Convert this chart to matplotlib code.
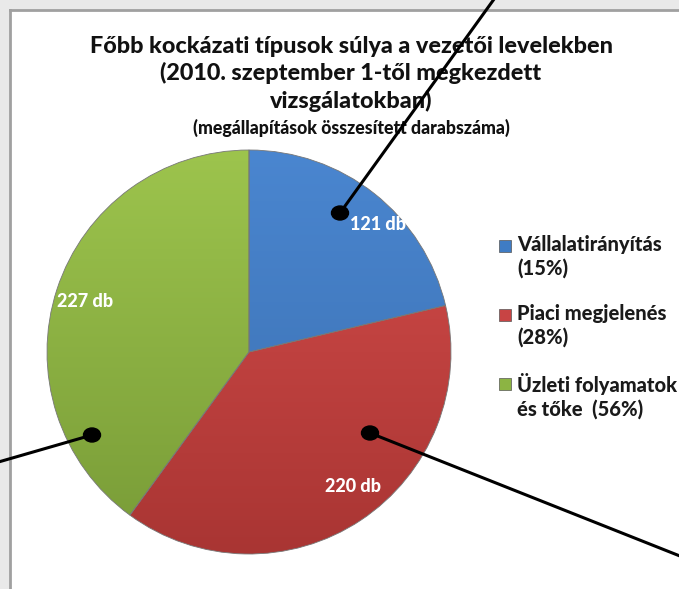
import numpy as np
import matplotlib
matplotlib.use('Agg')
import matplotlib.pyplot as plt
from matplotlib.colors import LinearSegmentedColormap
from matplotlib.patches import Rectangle, Ellipse

# Adatok
categories = ['Vállalatirányítás\n(15%)', 'Piaci megjelenés\n(28%)', 'Üzleti folyamatok\nés tőke  (56%)']
counts = [121, 220, 227]
colors_top = ['#4a86d0', '#d54d4b', '#9dc44d']
colors_bottom = ['#3a6eae', '#a93533', '#789b37']
legend_colors = ['#3f7cc4', '#c84444', '#8cb443']

title = 'Főbb kockázati típusok súlya a vezetői levelekben\n(2010. szeptember 1-től megkezdett\nvizsgálatokban)'
subtitle = '(megállapítások összesített darabszáma)'

plt.rcParams['font.family'] = ['Lato', 'DejaVu Sans']

W, H = 679, 589
fig = plt.figure(figsize=(W / 100, H / 100), dpi=100)
fig.patch.set_facecolor('#e9e9e9')

# fehér diagramterület szürke kerettel
bg = fig.add_axes([10 / W, -0.02, 1.05, 1.02 - 10 / H])
bg.set_xticks([])
bg.set_yticks([])
bg.set_facecolor('white')
for s in ['right', 'bottom']:
    bg.spines[s].set_visible(False)
for s in ['left', 'top']:
    bg.spines[s].set_color('#a0a0a0')
    bg.spines[s].set_linewidth(2)

# kör
cx, cy, r = 249, 352, 202
ax = fig.add_axes([(cx - r) / W, (H - cy - r) / H, 2 * r / W, 2 * r / H])
total = sum(counts)
wedges, texts, autotexts = ax.pie(counts, startangle=90, counterclock=False,
                                  radius=1, autopct=lambda p: '{:.0f} db'.format(p * total / 100),
                                  pctdistance=0.86,
                                  wedgeprops=dict(edgecolor='#777777', linewidth=0.6),
                                  textprops=dict(color='white', fontsize=13, fontweight='black'))

# színátmenet a szeletekben
grad = np.linspace(1, 0, 256).reshape(-1, 1)
for w, ct, cb in zip(wedges, colors_top, colors_bottom):
    w.set_facecolor('none')
    cmap = LinearSegmentedColormap.from_list('g', [cb, ct])
    im = ax.imshow(grad, cmap=cmap, extent=[-1, 1, -1, 1], aspect='auto', zorder=0.5)
    im.set_clip_path(w)

# címkék helye a szeleteken belül
label_shift = [-7, 4, 1]
label_dist = [0.9, 0.84, 0.85]
for w, t, sh, d in zip(wedges, autotexts, label_shift, label_dist):
    a = np.deg2rad((w.theta1 + w.theta2) / 2 + sh)
    t.set_position((d * np.cos(a), d * np.sin(a)))
    t.set_zorder(5)
ax.set_xlim(-1, 1)
ax.set_ylim(-1, 1)
ax.set_aspect('equal')
ax.axis('off')

# címek
fig.text(351 / W, 1 - 74 / H, title, ha='center', va='center', fontsize=16.8,
         fontweight='black', color='#111111', linespacing=1.32)
fig.text(351 / W, 1 - 128 / H, subtitle, ha='center', va='center', fontsize=12.8,
         fontweight='black', color='#111111')

# jelmagyarázat
for i, (lab, col) in enumerate(zip(categories, legend_colors)):
    y0 = 246 + i * 69
    fig.patches.append(Rectangle((499 / W, 1 - (y0 + 6) / H), 12 / W, 12 / H,
                                 transform=fig.transFigure, facecolor=col,
                                 edgecolor='#555555', linewidth=0.5))
    fig.text(517 / W, 1 - (y0 - 11) / H, lab, ha='left', va='top', fontsize=14.5,
             fontweight='black', color='#1a1a1a', linespacing=1.27)

# mutatóvonalak (képkockán kívülre futnak)
callouts = [((340, 213), (497, -5)), ((92, 435), (-5, 463)), ((370, 433), (690, 560))]
for (x0, y0), (x1, y1) in callouts:
    fig.add_artist(plt.Line2D([x0 / W, x1 / W], [1 - y0 / H, 1 - y1 / H],
                              transform=fig.transFigure, color='black', linewidth=2.2, zorder=10))
    fig.add_artist(Ellipse((x0 / W, 1 - y0 / H), 17 / W, 14 / H,
                           transform=fig.transFigure, color='black', zorder=11))

fig.savefig('out.png', dpi=100)
